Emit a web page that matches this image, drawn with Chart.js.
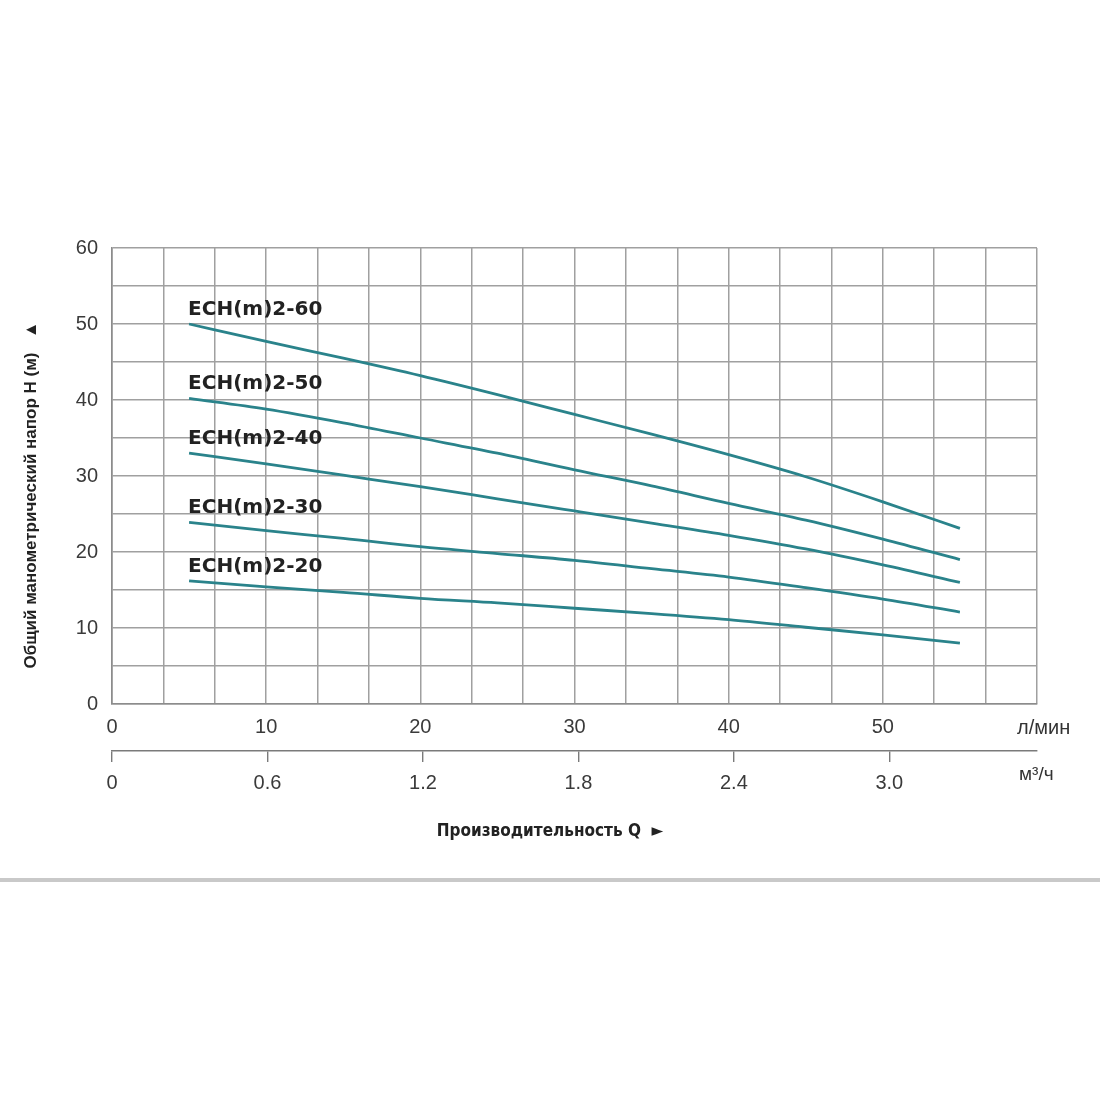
<!DOCTYPE html>
<html>
<head>
<meta charset="utf-8">
<script src="https://cdn.jsdelivr.net/npm/chart.js@4.4.1/dist/chart.umd.min.js"></script>
<style>
html, body { margin: 0; padding: 0; background: #fff; }
#wrap { position: relative; width: 1100px; height: 1100px; }
#sep { position: absolute; left: 0; top: 878px; width: 1100px; height: 4px; background: #c9c9c9; }
</style>
</head>
<body>
<div id="wrap">
  <canvas id="curvas" width="1100" height="1100"></canvas>
  <div id="sep"></div>
</div>
<script>
// расход, л/мин
const flowLpm = [5, 10, 15, 20, 25, 30, 35, 40, 45, 50, 55];
// напор, м
const headECH60 = [50.0, 47.7, 45.5, 43.2, 40.7, 38.1, 35.5, 32.8, 29.9, 26.6, 23.1];
const headECH50 = [40.2, 38.8, 37.0, 35.0, 33.0, 30.8, 28.7, 26.4, 24.2, 21.7, 19.0];
const headECH40 = [33.0, 31.6, 30.1, 28.6, 27.0, 25.4, 23.8, 22.2, 20.4, 18.3, 16.0];
const headECH30 = [23.9, 22.8, 21.8, 20.7, 19.8, 18.9, 17.8, 16.7, 15.3, 13.8, 12.1];
const headECH20 = [16.2, 15.4, 14.7, 13.9, 13.3, 12.6, 11.9, 11.1, 10.1, 9.1, 8.0];
const modelNames = ['ECH(m)2-60', 'ECH(m)2-50', 'ECH(m)2-40', 'ECH(m)2-30', 'ECH(m)2-20'];

const lpmLabels = [0, 10, 20, 30, 40, 50];
const m3hTicks = [0, 0.6, 1.2, 1.8, 2.4, 3.0];
const m3hLabels = ['0', '0.6', '1.2', '1.8', '2.4', '3.0'];
const headLabels = [0, 10, 20, 30, 40, 50, 60];

const lineColor = '#2a838b';
const gridColor = '#a0a0a0';
const sans = "'Liberation Sans', Arial, sans-serif";

const heads = [headECH60, headECH50, headECH40, headECH30, headECH20];
const datasets = heads.map((h, i) => ({
    label: modelNames[i],
    data: flowLpm.map((q, j) => ({ x: q, y: h[j] })),
    borderColor: lineColor,
    borderWidth: 2.8,
    pointRadius: 0,
    fill: false,
    cubicInterpolationMode: 'monotone'
}));

// подписи кривых и осей
const textPlugin = {
    id: 'textPlugin',
    afterDatasetsDraw(chart) {
        const ctx = chart.ctx;
        const xs = chart.scales.x, ys = chart.scales.y;
        ctx.save();
        ctx.fillStyle = '#222';
        ctx.font = "bold 20px 'DejaVu Sans', sans-serif";
        ctx.textAlign = 'left';
        ctx.textBaseline = 'alphabetic';
        heads.forEach((h, i) => {
            const px = xs.getPixelForValue(flowLpm[0]) - 1;
            const py = ys.getPixelForValue(h[0]) - 9;
            ctx.fillText(modelNames[i], px, py);
        });

        ctx.fillStyle = '#333';
        ctx.font = "20px " + sans;
        ctx.textBaseline = 'middle';
        ctx.fillText('л/мин', 1017, 728);
        ctx.font = "19px " + sans;
        ctx.fillText('м³/ч', 1019, 775);

        ctx.fillStyle = '#222';
        ctx.textAlign = 'center';
        ctx.font = "bold 17px 'DejaVu Sans Condensed', sans-serif";
        ctx.fillText('Производительность Q  ►', 550, 832);

        ctx.translate(31, 495);
        ctx.rotate(-Math.PI / 2);
        ctx.font = "bold 17px " + sans;
        ctx.fillText('Общий манометрический напор H (м)   ▲', 0, 0);
        ctx.restore();
    }
};

new Chart(document.getElementById('curvas'), {
    type: 'line',
    data: { datasets: datasets },
    plugins: [textPlugin],
    options: {
        responsive: false,
        animation: false,
        devicePixelRatio: 1,
        layout: { padding: { left: 0, top: 248, right: 63, bottom: 249 } },
        plugins: { legend: { display: false }, tooltip: { enabled: false } },
        scales: {
            y: {
                type: 'linear',
                min: 0, max: 60,
                afterFit: s => { s.width = 112; },
                afterBuildTicks: s => {
                    s.ticks = [];
                    for (let v = 0; v <= 60; v += 5) s.ticks.push({ value: v });
                },
                grid: { color: gridColor, lineWidth: 1.5, drawTicks: false },
                border: { color: '#8c8c8c', width: 1.6 },
                ticks: {
                    padding: 14,
                    color: '#3a3a3a',
                    font: { family: sans, size: 20 },
                    callback: v => headLabels.includes(v) ? String(v) : ''
                }
            },
            x: {
                type: 'linear',
                position: 'bottom',
                weight: 0,
                min: 0, max: 60,
                afterFit: s => { s.height = 47; },
                afterBuildTicks: s => {
                    s.ticks = [];
                    for (let i = 0; i <= 18; i++) s.ticks.push({ value: i * 10 / 3 });
                },
                grid: { color: gridColor, lineWidth: 1.5, drawTicks: false },
                border: { color: '#8c8c8c', width: 1.6 },
                ticks: {
                    autoSkip: false,
                    maxRotation: 0,
                    padding: 11,
                    color: '#3a3a3a',
                    font: { family: sans, size: 20 },
                    callback: v => {
                        const hit = lpmLabels.find(l => Math.abs(l - v) < 1e-6);
                        return hit === undefined ? '' : String(hit);
                    }
                }
            },
            x2: {
                type: 'linear',
                position: 'bottom',
                weight: 1,
                min: 0, max: 3.57,
                afterFit: s => { s.height = 100; },
                afterBuildTicks: s => { s.ticks = m3hTicks.map(v => ({ value: v })); },
                grid: { drawOnChartArea: false, drawTicks: true, tickLength: 11, color: '#7a7a7a', lineWidth: 1.4 },
                border: { color: '#7a7a7a', width: 1.6 },
                ticks: {
                    autoSkip: false,
                    maxRotation: 0,
                    padding: 9,
                    color: '#3a3a3a',
                    font: { family: sans, size: 20 },
                    callback: (v, i) => m3hLabels[i]
                }
            }
        }
    }
});
</script>
</body>
</html>
